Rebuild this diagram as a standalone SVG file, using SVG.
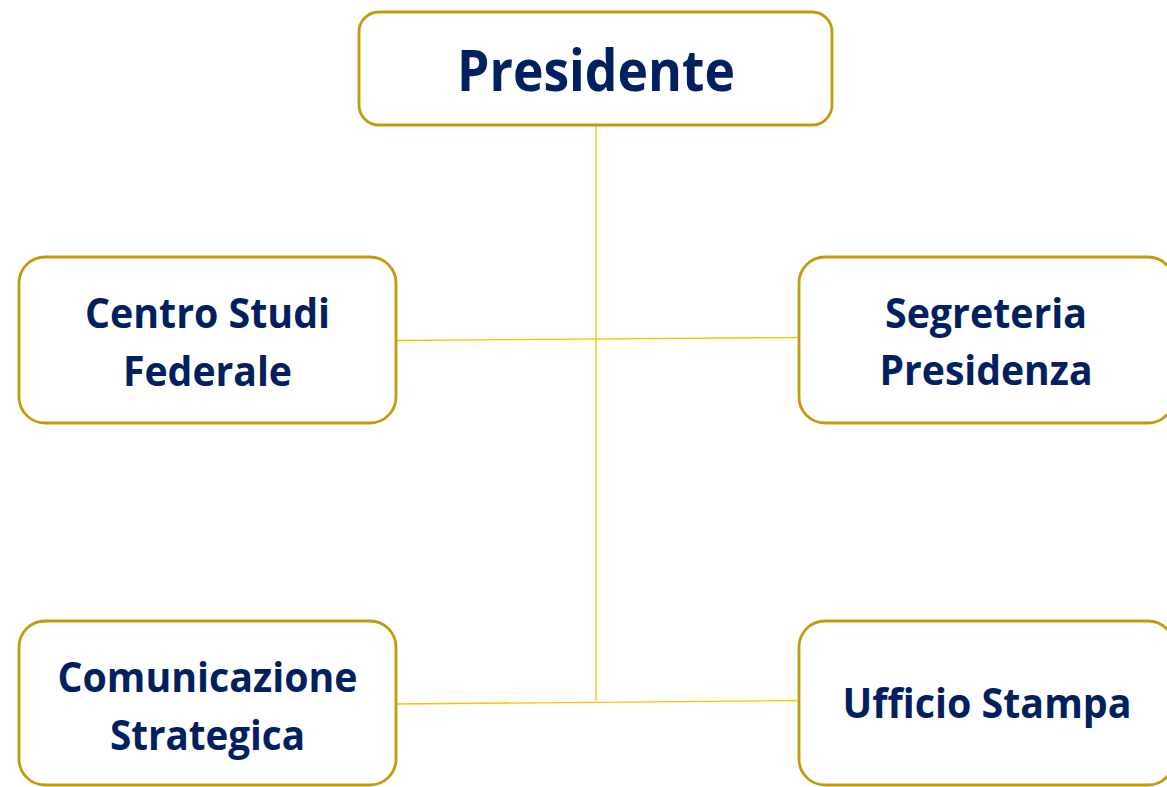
<svg xmlns="http://www.w3.org/2000/svg" width="1167" height="787" viewBox="0 0 1167 787">
<style>
.box{fill:#FFFFFF;stroke:#C39A0B;stroke-width:2.8}
.lbl{font-family:"Open Sans","Liberation Sans",sans-serif;font-weight:700;fill:#002060;text-anchor:middle;font-size:41px}
.big{font-size:58px}
.con{stroke:#FFC000;stroke-width:1.3;fill:none}
</style>
<rect width="1167" height="787" fill="#FFFFFF"/>
<g id="connectors">
<line class="con" x1="596" y1="125" x2="596" y2="701"/>
<line class="con" x1="396" y1="340.5" x2="799" y2="337.5"/>
<line class="con" x1="396" y1="704" x2="799" y2="700.5"/>
</g>
<g id="presidente">
<rect class="box" x="359" y="12" width="473" height="113" rx="20"/>
<text class="lbl big" x="596" y="91" textLength="278" lengthAdjust="spacingAndGlyphs">Presidente</text>
</g>
<g id="centro-studi">
<rect class="box" x="19" y="257" width="377" height="166" rx="26"/>
<text class="lbl" x="207.5" y="328" textLength="245" lengthAdjust="spacingAndGlyphs">Centro Studi</text>
<text class="lbl" x="207.5" y="386" textLength="169" lengthAdjust="spacingAndGlyphs">Federale</text>
</g>
<g id="segreteria">
<rect class="box" x="799" y="257" width="375" height="166" rx="26"/>
<text class="lbl" x="986" y="328" textLength="202" lengthAdjust="spacingAndGlyphs">Segreteria</text>
<text class="lbl" x="986" y="385" textLength="213" lengthAdjust="spacingAndGlyphs">Presidenza</text>
</g>
<g id="comunicazione">
<rect class="box" x="19" y="621" width="377" height="164" rx="26"/>
<text class="lbl" x="207.5" y="692" textLength="300" lengthAdjust="spacingAndGlyphs">Comunicazione</text>
<text class="lbl" x="207.5" y="750" textLength="195" lengthAdjust="spacingAndGlyphs">Strategica</text>
</g>
<g id="ufficio-stampa">
<rect class="box" x="799" y="621" width="375" height="164" rx="26"/>
<text class="lbl" x="987" y="718" textLength="289" lengthAdjust="spacingAndGlyphs">Ufficio Stampa</text>
</g>
</svg>
